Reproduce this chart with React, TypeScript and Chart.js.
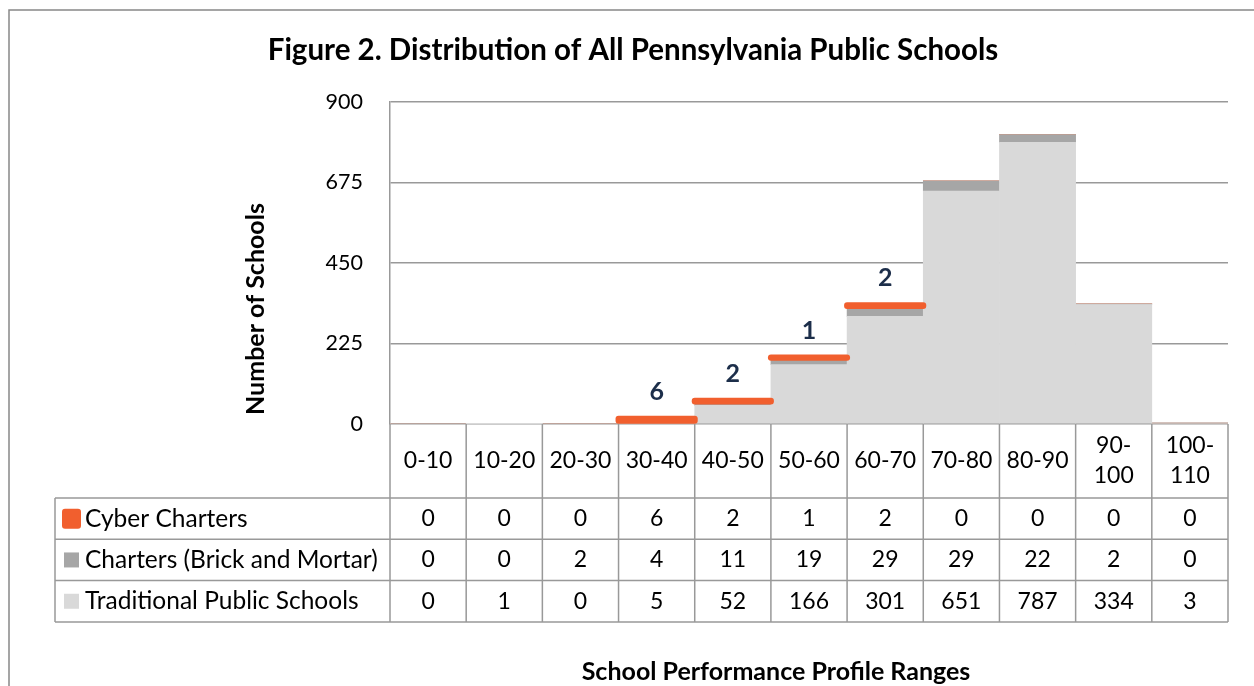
import React, { useEffect, useRef } from 'react';
import { Chart, registerables } from 'chart.js';

Chart.register(...registerables);

const categories = ['0-10', '10-20', '20-30', '30-40', '40-50', '50-60', '60-70', '70-80', '80-90', '90-100', '100-110'];
const headerLines = [['0-10'], ['10-20'], ['20-30'], ['30-40'], ['40-50'], ['50-60'], ['60-70'], ['70-80'], ['80-90'], ['90-', '100'], ['100-', '110']];
const cyberCharters = [0, 0, 0, 6, 2, 1, 2, 0, 0, 0, 0];
const brickCharters = [0, 0, 2, 4, 11, 19, 29, 29, 22, 2, 0];
const traditionalSchools = [0, 1, 0, 5, 52, 166, 301, 651, 787, 334, 3];
const yTickValues = [0, 225, 450, 675, 900];

const seriesNames = ['Cyber Charters', 'Charters (Brick and Mortar)', 'Traditional Public Schools'];
const titleText = 'Figure 2. Distribution of All Pennsylvania Public Schools';
const yTitle = 'Number of Schools';
const xTitle = 'School Performance Profile Ranges';

const ORANGE = '#f15f2e';
const DARK = '#a6a6a6';
const LIGHT = '#d9d9d9';
const LINE = '#999999';
const FONT = 'Lato, "Open Sans", sans-serif';

const customPlugin = {
  id: 'customDraw',
  beforeDraw(chart: any) {
    const ctx = chart.ctx;
    ctx.save();
    ctx.fillStyle = '#ffffff';
    ctx.fillRect(0, 0, chart.width, chart.height);
    ctx.strokeStyle = '#888888';
    ctx.lineWidth = 1.5;
    ctx.strokeRect(9, 10, chart.width + 50, chart.height + 50);
    ctx.fillStyle = '#000';
    ctx.font = `bold 29.5px ${FONT}`;
    ctx.textAlign = 'center';
    ctx.textBaseline = 'middle';
    ctx.fillText(titleText, 633, 50);
    ctx.restore();
  },
  afterDatasetsDraw(chart: any) {
    const ctx = chart.ctx;
    const meta = chart.getDatasetMeta(2);
    ctx.save();
    meta.data.forEach((el: any, i: number) => {
      const v = cyberCharters[i];
      if (!v) return;
      const p = el.getProps(['x', 'y', 'base', 'width'], true);
      ctx.strokeStyle = ORANGE;
      ctx.lineWidth = 6;
      ctx.lineJoin = 'round';
      ctx.strokeRect(p.x - p.width / 2, p.y, p.width, p.base - p.y);
      ctx.fillStyle = '#1c2e4a';
      ctx.font = `bold 25px ${FONT}`;
      ctx.textAlign = 'center';
      ctx.textBaseline = 'middle';
      ctx.fillText(String(v), p.x, p.y - 27);
    });
    ctx.restore();
  },
  afterDraw(chart: any) {
    const ctx = chart.ctx;
    const area = chart.chartArea;
    const xs = chart.scales.x;
    const n = categories.length;
    const colW = (area.right - area.left) / n;
    const top = area.bottom;
    const headBottom = top + 74;
    const rowH = 41.3;
    const rowsBottom = headBottom + rowH * 3;
    const tableLeft = 55;
    ctx.save();
    ctx.strokeStyle = LINE;
    ctx.lineWidth = 1.5;
    ctx.beginPath();
    for (let i = 0; i <= n; i++) {
      const x = area.left + i * colW;
      ctx.moveTo(x, top);
      ctx.lineTo(x, rowsBottom);
    }
    ctx.moveTo(tableLeft, headBottom);
    ctx.lineTo(tableLeft, rowsBottom);
    for (let r = 0; r <= 3; r++) {
      const y = headBottom + r * rowH;
      ctx.moveTo(tableLeft, y);
      ctx.lineTo(area.right, y);
    }
    ctx.stroke();

    ctx.fillStyle = '#000';
    ctx.font = `23px ${FONT}`;
    ctx.textAlign = 'center';
    ctx.textBaseline = 'middle';
    headerLines.forEach((lines, i) => {
      const cx = xs.getPixelForValue(i);
      const mid = (top + headBottom) / 2;
      if (lines.length === 1) {
        ctx.fillText(lines[0], cx, mid);
      } else {
        ctx.fillText(lines[0], cx, mid - 15);
        ctx.fillText(lines[1], cx, mid + 15);
      }
    });
    const rows = [cyberCharters, brickCharters, traditionalSchools];
    rows.forEach((vals, r) => {
      const cy = headBottom + r * rowH + rowH / 2;
      ctx.font = `23px ${FONT}`;
      ctx.textAlign = 'center';
      vals.forEach((v, i) => {
        ctx.fillText(String(v), xs.getPixelForValue(i), cy);
      });
      ctx.font = `24.5px ${FONT}`;
      ctx.textAlign = 'left';
      ctx.fillText(seriesNames[r], 85, cy);
    });
    ctx.fillStyle = ORANGE;
    const c0 = headBottom + rowH / 2;
    ctx.beginPath();
    if (ctx.roundRect) ctx.roundRect(62, c0 - 10, 19, 20, 3);
    else ctx.rect(62, c0 - 10, 19, 20);
    ctx.fill();
    ctx.fillStyle = DARK;
    const c1 = headBottom + rowH * 1.5;
    ctx.fillRect(64, c1 - 7.5, 15, 15);
    ctx.fillStyle = LIGHT;
    const c2 = headBottom + rowH * 2.5;
    ctx.fillRect(64, c2 - 7.5, 15, 15);

    ctx.fillStyle = '#000';
    ctx.font = `bold 25px ${FONT}`;
    ctx.textAlign = 'center';
    ctx.textBaseline = 'middle';
    ctx.fillText(xTitle, 776, 672);
    ctx.translate(256, 309);
    ctx.rotate(-Math.PI / 2);
    ctx.fillText(yTitle, 0, 0);
    ctx.restore();
  },
};

export default function App() {
  const ref = useRef<HTMLCanvasElement | null>(null);
  useEffect(() => {
    if (!ref.current) return;
    const chart = new Chart(ref.current, {
      type: 'bar',
      data: {
        labels: categories,
        datasets: [
          { label: seriesNames[2], data: traditionalSchools, backgroundColor: LIGHT, borderWidth: 0 },
          { label: seriesNames[1], data: brickCharters, backgroundColor: DARK, borderWidth: 0 },
          { label: seriesNames[0], data: cyberCharters, backgroundColor: ORANGE, borderWidth: 0 },
        ],
      },
      options: {
        animation: false,
        responsive: true,
        maintainAspectRatio: false,
        layout: { padding: { top: 102, left: 0, right: 26, bottom: 262 } },
        datasets: { bar: { barPercentage: 1, categoryPercentage: 1 } },
        plugins: {
          legend: { display: false },
          tooltip: { enabled: false },
          title: { display: false },
        },
        scales: {
          x: { stacked: true, display: false },
          y: {
            stacked: true,
            min: 0,
            max: 900,
            afterBuildTicks: (scale: any) => {
              scale.ticks = yTickValues.map((v) => ({ value: v }));
            },
            afterFit: (scale: any) => {
              scale.width = 390;
            },
            grid: { color: LINE, lineWidth: 1.5, drawTicks: false },
            border: { display: true, color: LINE, width: 1.5 },
            ticks: { padding: 27, color: '#000', font: { family: FONT, size: 21.5 } },
          },
        },
      },
      plugins: [customPlugin],
    });
    return () => chart.destroy();
  }, []);
  return (
    <div style={{ position: 'fixed', left: 0, top: 0, width: 1254, height: 686 }}>
      <canvas ref={ref} />
    </div>
  );
}
